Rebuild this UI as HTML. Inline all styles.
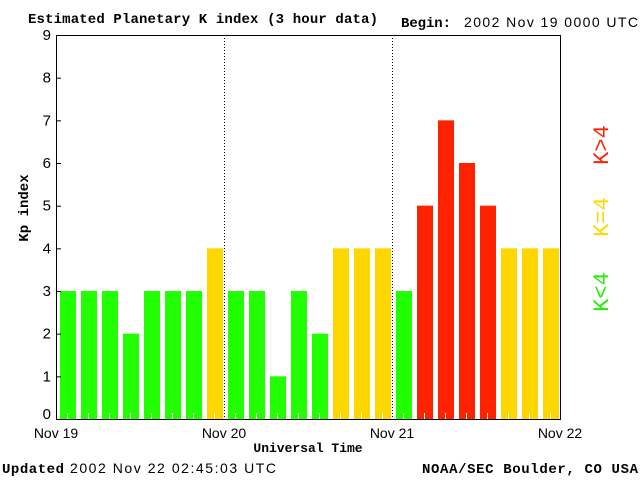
<!DOCTYPE html>
<html><head><meta charset="utf-8"><style>
body{margin:0;background:#fff;}
svg text{font-family:"Liberation Sans",sans-serif;}
.s{font-family:"Liberation Mono",monospace;font-weight:bold;}
</style></head><body>
<svg id="c" width="640" height="480" xmlns="http://www.w3.org/2000/svg">
<text class="s" x="28" y="23" font-size="14" textLength="350">Estimated Planetary K index (3 hour data)</text>
<text class="s" x="401" y="27" font-size="14" textLength="50">Begin:</text>
<text x="464" y="27" font-size="14" textLength="174">2002 Nov 19 0000 UTC</text>
<text class="s" x="28" y="208" font-size="14" transform="rotate(-90 28 208)" text-anchor="middle">Kp index</text>
<text class="s" x="308" y="452" font-size="13" text-anchor="middle">Universal Time</text>
<text class="s" x="2" y="473" font-size="14" textLength="62">Updated</text>
<text x="70" y="473" font-size="14" textLength="206">2002 Nov 22 02:45:03 UTC</text>
<text class="s" x="422" y="473" font-size="14" textLength="216">NOAA/SEC Boulder, CO USA</text>
<g id="bars"></g>
<g id="axes"></g>
<text x="608" y="292" font-size="22" fill="#22ee00" transform="rotate(-90 608 292)" text-anchor="middle" class="s" style="font-weight:normal">K&lt;4</text>
<text x="608" y="217" font-size="22" fill="#ffd700" transform="rotate(-90 608 217)" text-anchor="middle" class="s" style="font-weight:normal">K=4</text>
<text x="608" y="145" font-size="22" fill="#ff2200" transform="rotate(-90 608 145)" text-anchor="middle" class="s" style="font-weight:normal">K&gt;4</text>
</svg>
<script>
const kpValues=[3,3,3,2,3,3,3,4,3,3,1,3,2,4,4,4,3,5,7,6,5,4,4,4];
const yTicks=[0,1,2,3,4,5,6,7,8,9];
const dayLabels=["Nov 19","Nov 20","Nov 21","Nov 22"];
const NS="http://www.w3.org/2000/svg";
const L=56,R=560,T=35,B=419;
const slot=(R-L)/kpValues.length;
const y=v=>B-(B-T)*v/9;
const x=i=>L+i*slot;
const bars=document.getElementById('bars'),axes=document.getElementById('axes');
function mk(tag,parent,attrs){const e=document.createElementNS(NS,tag);for(const k in attrs)e.setAttribute(k,attrs[k]);parent.appendChild(e);return e;}
kpValues.forEach((v,i)=>{
  const col=v<4?'#22ff00':(v==4?'#ffd700':'#ff2200');
  const r=mk('rect',bars,{x:x(i)+4,y:y(v),width:slot-5,height:B-y(v),fill:col});
  
  
  const t=mk('line',bars,{x1:x(i)+11.5,x2:x(i)+11.5,y1:B-6,y2:B,stroke:'#fff'});
  
  
});
const fr=mk('rect',axes,{x:L+0.5,y:T+0.5,width:R-L,height:B-T,fill:'none',stroke:'#000'});


yTicks.forEach(v=>{
  const tl=mk('line',axes,{x1:L,x2:L+5,y1:y(v)+0.5,y2:y(v)+0.5,stroke:'#000'});
  
  
  const t=mk('text',axes,{x:L-5,y:y(v)+ (v==0?0:5),'font-size':15,'text-anchor':'end'});
  t.textContent=v;
  
  
});
dayLabels.forEach((d,i)=>{
  const xx=L+i*(R-L)/3;
  if(i>0&&i<3){
    const dl=mk('line',axes,{x1:xx+0.5,x2:xx+0.5,y1:T,y2:B,stroke:'#000','stroke-dasharray':'1,2'});
    
    
  }
  const t=mk('text',axes,{x:xx,y:438,'font-size':14,'text-anchor':'middle'});
  t.textContent=d;
  
  
});
</script>
</body></html>
